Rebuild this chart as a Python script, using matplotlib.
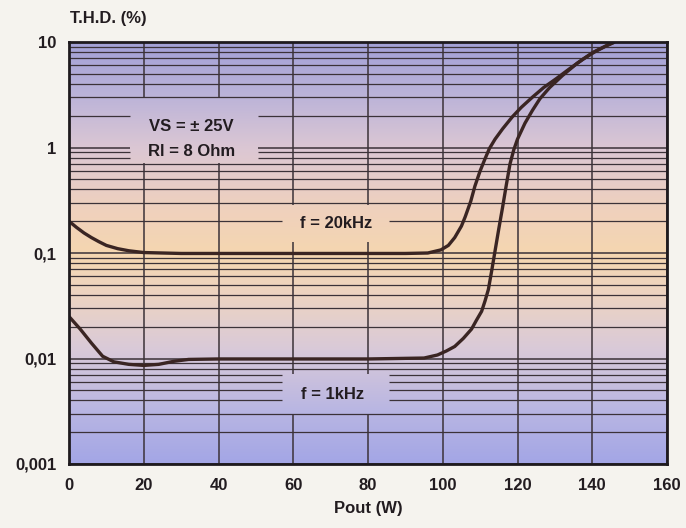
import numpy as np
import matplotlib
matplotlib.use("Agg")
import matplotlib.pyplot as plt
from matplotlib.colors import LinearSegmentedColormap
from matplotlib.ticker import FixedLocator, NullLocator

# ---- data ----
x_20k = [0, 2, 4, 6, 8, 10, 13, 16, 20, 25, 30, 40, 60, 80, 90, 96, 99.5, 101.5,
         103.2, 105, 106, 107.5, 108.6, 110, 111.3, 112.5, 114, 116, 118.6, 121,
         124, 127, 130.4, 134, 137.6, 141, 144, 146]
y_20k = [0.20, 0.175, 0.155, 0.14, 0.128, 0.118, 0.11, 0.105, 0.101, 0.1, 0.099,
         0.099, 0.099, 0.099, 0.099, 0.1, 0.107, 0.118, 0.14, 0.18, 0.22, 0.31,
         0.43, 0.6, 0.78, 0.98, 1.2, 1.5, 1.95, 2.4, 3.0, 3.7, 4.5, 5.6, 6.9, 8.2,
         9.3, 10.0]

x_1k = [0, 3, 6, 9, 12, 16, 20, 24, 28, 32, 40, 60, 80, 95, 98.6, 101, 103.2,
        105.5, 107.7, 109, 110.4, 111.3, 112.2, 113.1, 114, 115, 116, 117, 118,
        119, 120, 122, 124, 126, 128.6, 132, 136, 140, 144, 146]
y_1k = [0.025, 0.019, 0.014, 0.0105, 0.0093, 0.0088, 0.0086, 0.0088, 0.0094,
        0.0098, 0.0099, 0.0099, 0.0099, 0.0101, 0.0108, 0.0118, 0.013, 0.0155,
        0.019, 0.023, 0.028, 0.035, 0.045, 0.068, 0.105, 0.17, 0.27, 0.44, 0.7,
        0.95, 1.2, 1.7, 2.25, 2.9, 3.7, 4.8, 6.3, 7.9, 9.3, 10.0]

x_ticks = [0, 20, 40, 60, 80, 100, 120, 140, 160]
y_ticks = [0.001, 0.01, 0.1, 1, 10]
y_tick_labels = ["0,001", "0,01", "0,1", "1", "10"]

plt.rcParams['font.family'] = ['Liberation Sans', 'DejaVu Sans']

W, H = 686, 528
fig = plt.figure(figsize=(W / 100, H / 100), dpi=100)
fig.patch.set_facecolor('#f5f3ee')

ax = fig.add_axes([69 / W, 1 - 464 / H, (667 - 69) / W, (464 - 42) / H])
ax.set_yscale('log')
ax.set_xlim(0, 160)
ax.set_ylim(0.001, 10)
ax.set_autoscale_on(False)

# background gradient (bottom -> top)
cmap = LinearSegmentedColormap.from_list('bg', [
    (0.00, (0.64, 0.65, 0.90)),
    (0.12, (0.72, 0.71, 0.89)),
    (0.27, (0.85, 0.79, 0.85)),
    (0.40, (0.93, 0.83, 0.76)),
    (0.50, (0.96, 0.84, 0.69)),
    (0.60, (0.94, 0.82, 0.74)),
    (0.75, (0.86, 0.78, 0.83)),
    (0.88, (0.73, 0.70, 0.85)),
    (1.00, (0.64, 0.63, 0.84)),
])
grad = np.linspace(0, 1, 256).reshape(-1, 1)
ax.imshow(grad, cmap=cmap, aspect='auto', extent=[0, 1, 0, 1],
          transform=ax.transAxes, origin='lower', zorder=0, interpolation='bilinear')

# label boxes that interrupt the grid: (x0, x1, y0, y1)
boxes = [
    (16.4, 50.7, 0.72, 3.0),
    (57.1, 85.5, 0.127, 0.285),
    (57.1, 85.5, 0.0030, 0.0071),
]

def split(lo, hi, gaps):
    segs = [(lo, hi)]
    for g0, g1 in gaps:
        new = []
        for a, b in segs:
            if g1 <= a or g0 >= b:
                new.append((a, b))
            else:
                if a < g0:
                    new.append((a, g0))
                if g1 < b:
                    new.append((g1, b))
        segs = new
    return segs

gc = '#3b3238'
# horizontal grid lines (decades and 2..9 subdivisions)
h_lines = []
for d in [0.001, 0.01, 0.1, 1]:
    for m in range(1, 10):
        h_lines.append(d * m)
h_lines.append(10)
for yv in h_lines:
    gaps = [(b[0], b[1]) for b in boxes if b[2] < yv < b[3]]
    lw = 1.1 if any(np.isclose(yv, t) for t in y_ticks) else 0.9
    for a, b in split(0, 160, gaps):
        ax.hlines(yv, a, b, color=gc, lw=lw, zorder=1)
# vertical grid lines
for xv in x_ticks:
    gaps = [(b[2], b[3]) for b in boxes if b[0] < xv < b[1]]
    for a, b in split(0.001, 10, gaps):
        ax.vlines(xv, a, b, color=gc, lw=1.1, zorder=1)

tc = '#221c20'
fs = 12
ax.text(32.7, 1.58, 'VS = ± 25V', ha='center', va='center', fontsize=fs, fontweight='bold', color=tc, zorder=3)
ax.text(32.7, 0.92, 'Rl = 8 Ohm', ha='center', va='center', fontsize=fs, fontweight='bold', color=tc, zorder=3)
ax.text(71.5, 0.19, 'f = 20kHz', ha='center', va='center', fontsize=fs, fontweight='bold', color=tc, zorder=3)
ax.text(70.5, 0.0046, 'f = 1kHz', ha='center', va='center', fontsize=fs, fontweight='bold', color=tc, zorder=3)

# curves
lc = '#3a2523'
ax.plot(x_20k, y_20k, color=lc, lw=2.4, zorder=4, solid_capstyle='butt', solid_joinstyle='round')
ax.plot(x_1k, y_1k, color=lc, lw=2.4, zorder=4, solid_capstyle='butt', solid_joinstyle='round')

ax.xaxis.set_major_locator(FixedLocator(x_ticks))
ax.yaxis.set_major_locator(FixedLocator(y_ticks))
ax.yaxis.set_minor_locator(NullLocator())
ax.set_yticklabels(y_tick_labels)

for s in ax.spines.values():
    s.set_color('#1e1a1e')
    s.set_linewidth(2.0)
    s.set_zorder(5)

ax.tick_params(which='both', length=0, labelsize=fs, colors=tc)
for lab in ax.get_xticklabels() + ax.get_yticklabels():
    lab.set_fontweight('bold')
ax.tick_params(axis='y', pad=9)
ax.tick_params(axis='x', pad=10)

fig.text(70 / W, 1 - 19 / H, 'T.H.D. (%)', ha='left', va='center', fontsize=fs, fontweight='bold', color=tc)
fig.text(368 / W, 1 - 508 / H, 'Pout (W)', ha='center', va='center', fontsize=fs, fontweight='bold', color=tc)

fig.savefig('out.png', dpi=100, facecolor=fig.get_facecolor())
